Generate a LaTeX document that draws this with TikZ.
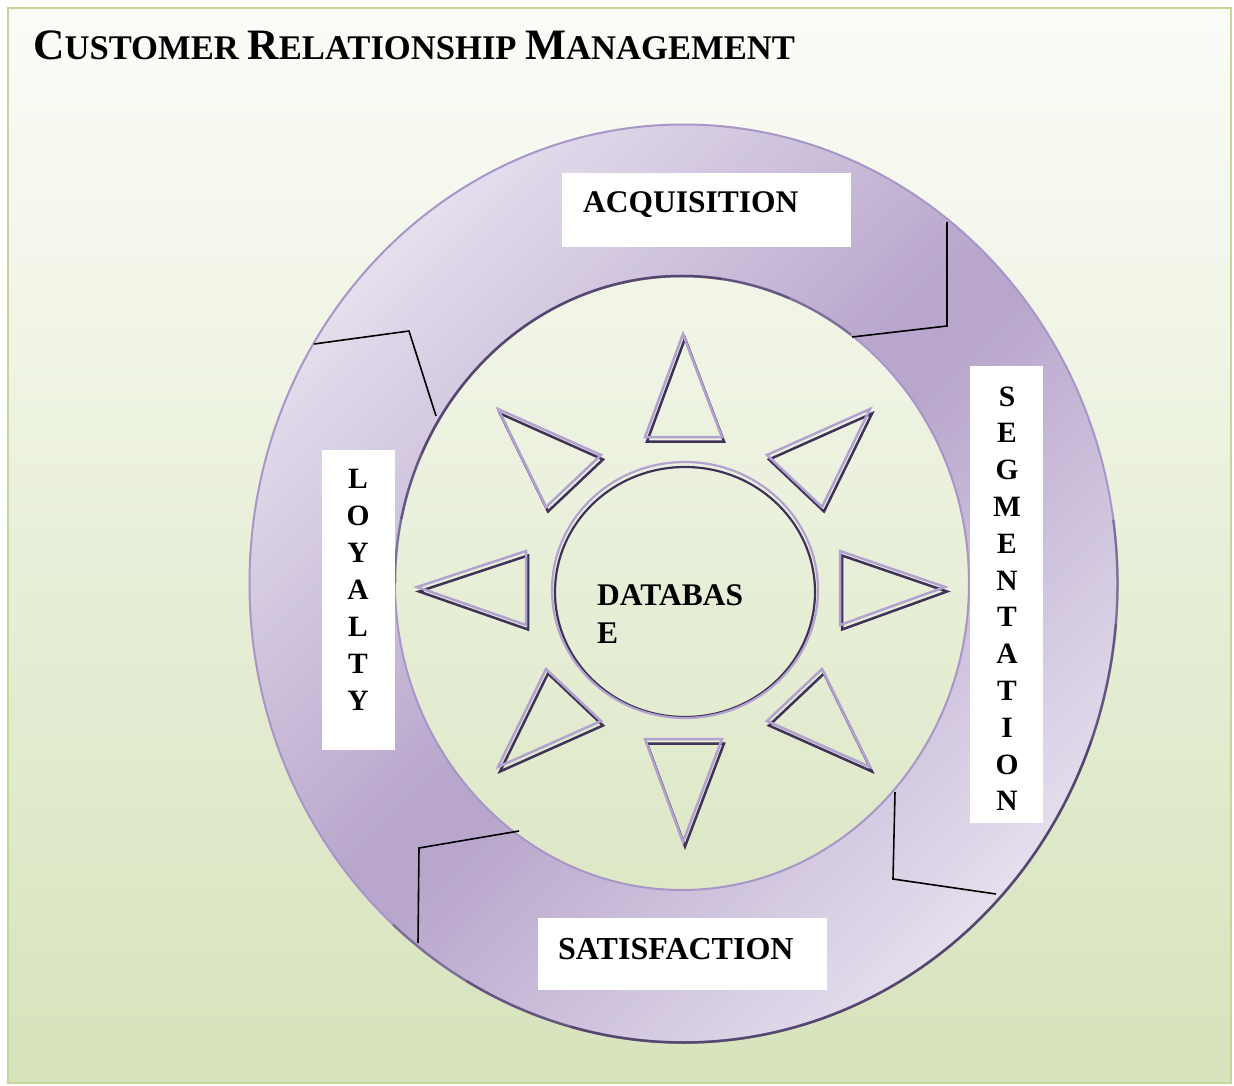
\documentclass[tikz,border=0pt]{standalone}
\usepackage{fontspec}
\setmainfont{Liberation Serif}
\definecolor{bgtop}{HTML}{FBFCF8}
\definecolor{bgbot}{HTML}{D6E3BB}
\definecolor{framegreen}{HTML}{C4D79B}
\definecolor{ringlight}{HTML}{E4DEED}
\definecolor{ringdark}{HTML}{B8A6CC}
\definecolor{edgelight}{HTML}{A796C7}
\definecolor{edgedark}{HTML}{3F3059}
\definecolor{trilight}{HTML}{B3A2D0}
\definecolor{tridark}{HTML}{3F3158}
\newcommand\crmBig{\fontsize{43.4}{50}\selectfont}
\newcommand\crmSmall{\fontsize{34.6}{40}\selectfont}
\begin{document}
\begin{tikzpicture}[x=1pt,y=-1pt,
  divider/.style={draw=black, line width=1.6},
  whitebox/.style={fill=white, draw=none, inner sep=0},
  lbl/.style={font=\fontsize{31.5}{38}\selectfont\bfseries, inner sep=0, anchor=base west},
  vletter/.style={font=\fontsize{29.5}{35}\selectfont\bfseries, inner sep=0, anchor=base},
  tridk/.style={draw=tridark, line width=2.5},
  trilt/.style={draw=trilight, line width=2.5},
  darkedge/.style={draw=edgedark, line width=2.5, draw opacity=0.4}]
\useasboundingbox (0,0) rectangle (1234,1086);
\fill[white] (0,0) rectangle (1234,1086);
\shade[top color=bgtop, bottom color=bgbot] (8,8) rectangle (1231,1083);
\draw[framegreen, line width=2] (8,8) rectangle (1231,1083);

\coordinate (C) at (683.5,583.5);
\coordinate (Ci) at (682,583);

% ring
\begin{scope}[even odd rule]
\clip (C) ellipse[x radius=434, y radius=459] (Ci) ellipse[x radius=287, y radius=307];
\begin{scope}[transform canvas={rotate around={-45:(C)}}, shift={(C)}]
\fill[ringlight] (-800,-800) rectangle (-440,800);
\shade[left color=ringlight, right color=ringdark] (-441,-800) rectangle (-29,800);
\fill[ringdark] (-30,-800) rectangle (30,800);
\shade[left color=ringdark, right color=ringlight] (29,-800) rectangle (441,800);
\fill[ringlight] (440,-800) rectangle (800,800);
\end{scope}
\end{scope}
\draw[edgelight, line width=2] (C) ellipse[x radius=434, y radius=459];
\draw[edgelight, line width=2] (Ci) ellipse[x radius=287, y radius=307];
% shaded (faded) dark rims
\foreach \s/\e in {-8/132, 5/120, 20/105}
  \draw[darkedge] ([shift={(\s:434 and 459)}]C) arc[start angle=\s, end angle=\e, x radius=434, y radius=459];
\foreach \s/\e in {180/306, 192/292, 205/278}
  \draw[darkedge] ([shift={(\s:287 and 307)}]Ci) arc[start angle=\s, end angle=\e, x radius=287, y radius=307];

% dividers
\coordinate (d1a) at (947,222); \coordinate (d1b) at (947,326); \coordinate (d1c) at (852,337);
\coordinate (d2a) at (314,344); \coordinate (d2b) at (409,331); \coordinate (d2c) at (436,416);
\coordinate (d3a) at (519,831); \coordinate (d3b) at (419,848); \coordinate (d3c) at (418,943);
\coordinate (d4a) at (895,792); \coordinate (d4b) at (893,879); \coordinate (d4c) at (996,894);
\draw[divider] (d1a) -- (d1b) -- (d1c);
\draw[divider] (d2a) -- (d2b) -- (d2c);
\draw[divider] (d3a) -- (d3b) -- (d3c);
\draw[divider] (d4a) -- (d4b) -- (d4c);

% label boxes
\node[whitebox, minimum width=289, minimum height=74] (acqbox) at (706.5,210) {};
\node[whitebox, minimum width=289, minimum height=72] (satbox) at (682.5,954) {};
\node[whitebox, minimum width=73, minimum height=300] (loybox) at (358.5,600) {};
\node[whitebox, minimum width=73, minimum height=457] (segbox) at (1006.5,594.5) {};

\node[lbl] (acq) at (583,213) {ACQUISITION};
\node[lbl, font=\fontsize{32}{38}\selectfont\bfseries] (sat) at (558,959) {SATISFACTION};
\foreach [count=\i from 0] \l in {S,E,G,M,E,N,T,A,T,I,O,N}
  \node[vletter] (seg\i) at (1007,406+36.8*\i) {\l};
\foreach [count=\i from 0] \l in {L,O,Y,A,L,T,Y}
  \node[vletter] (loy\i) at (358,488+37*\i) {\l};

% triangles
\foreach \ax/\ay/\bx/\by/\cx/\cy in {683/334/722/437/645/437, 870/409/822/507/767/455, 945/587/840/625/840/551, 870/767/822/669/767/721, 683/842/645/739/722/739, 498/767/546/669/601/721, 417/587/526/551/526/625, 498/409/546/507/601/455}{
  \draw[tridk, shift={(2,4.5)}] (\ax,\ay) -- (\bx,\by) -- (\cx,\cy) -- cycle;
  \draw[trilt] (\ax,\ay) -- (\bx,\by) -- (\cx,\cy) -- cycle;
}

% database circle
\draw[tridark, line width=2.2] (685,592) ellipse[x radius=130, y radius=125];
\draw[trilight, line width=2.2] (685,590) ellipse[x radius=133, y radius=128];
\node[lbl] (db1) at (597,605) {DATABAS};
\node[lbl] (db2) at (597,643) {E};

% title
\node[anchor=base west, inner sep=0, font=\bfseries] (title) at (33,60) {\crmBig C\crmSmall USTOMER \crmBig R\crmSmall ELATIONSHIP \crmBig M\crmSmall ANAGEMENT};
\end{tikzpicture}
\end{document}
